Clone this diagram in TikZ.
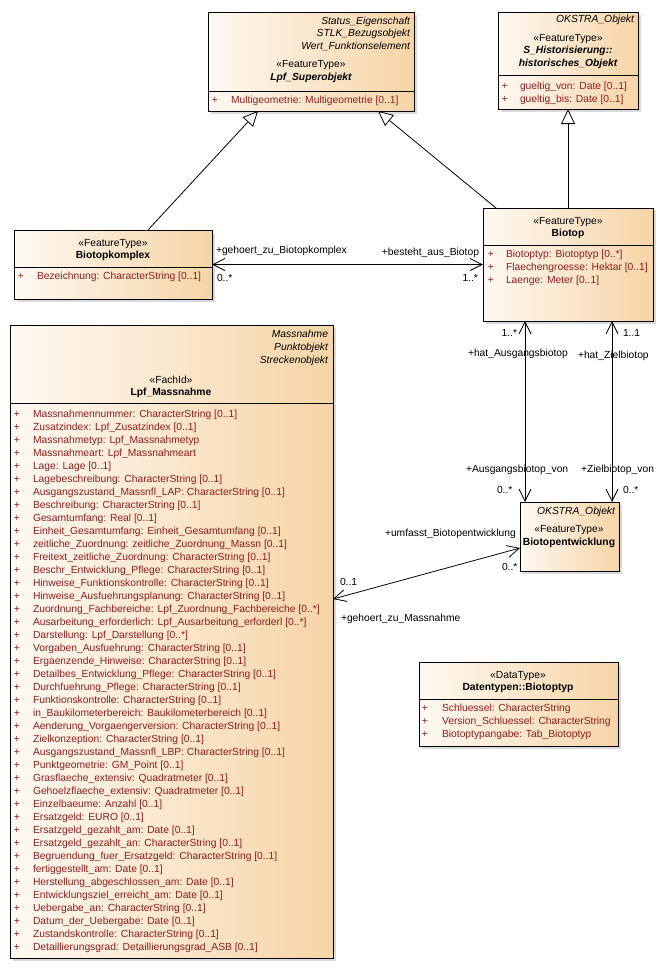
\documentclass[tikz,border=0pt]{standalone}
\usepackage{fontspec}
\setmainfont{Liberation Sans}
\usetikzlibrary{arrows.meta}
\definecolor{attrred}{RGB}{140,30,30}
\definecolor{boxl}{RGB}{254,249,242}
\definecolor{boxr}{RGB}{246,212,166}
\definecolor{shadowc}{RGB}{218,218,218}
\begin{document}
\begin{tikzpicture}[x=1pt,y=-1pt,
  every node/.style={font=\fontsize{10.3}{13}\selectfont, inner sep=0pt, outer sep=0pt},
  cls/.style={draw=black, line width=0.8pt, left color=boxl, right color=boxr, anchor=north west, rectangle},
  plus/.style={text=attrred, anchor=mid},
  attr/.style={text=attrred, anchor=mid west},
  ster/.style={anchor=mid},
  cname/.style={anchor=mid, font=\fontsize{10.3}{13}\selectfont\bfseries},
  aname/.style={anchor=mid, font=\fontsize{10.3}{13}\selectfont\bfseries\itshape},
  parent/.style={font=\fontsize{10.3}{13}\selectfont\itshape, anchor=mid east},
  lab/.style={anchor=mid west},
  labr/.style={anchor=mid east},
  divider/.style={draw, line width=0.8pt},
  gen/.style={draw, line width=0.8pt, -{Triangle[open, length=15pt, width=14pt, fill=white]}},
  assoc/.style={draw, line width=0.8pt, {Straight Barb[length=12pt,width=12pt]}-{Straight Barb[length=12pt,width=12pt]}},
]
\useasboundingbox[fill=white] (0,0) rectangle (664,969);

% shadows
\fill[shadowc] (211,15) rectangle (417,114);
\fill[shadowc] (501,15) rectangle (641,112);
\fill[shadowc] (17,233) rectangle (215,302);
\fill[shadowc] (486,211) rectangle (656,324);
\fill[shadowc] (13,328) rectangle (336,961);
\fill[shadowc] (523,505) rectangle (622,574);
\fill[shadowc] (422,665) rectangle (621,749);

% boxes
\node[cls, minimum width=206pt, minimum height=99pt] (super) at (208,12) {};
\node[cls, minimum width=140pt, minimum height=97pt] (okstra) at (498,12) {};
\node[cls, minimum width=198pt, minimum height=69pt] (bk) at (14,230) {};
\node[cls, minimum width=170pt, minimum height=113pt] (biotop) at (483,208) {};
\node[cls, minimum width=323pt, minimum height=633pt] (mass) at (10,325) {};
\node[cls, minimum width=99pt, minimum height=69pt] (be) at (520,502) {};
\node[cls, minimum width=199pt, minimum height=84pt] (dt) at (419,662) {};

% dividers
\draw[divider] (super.west |- 0,91) -- (super.east |- 0,91);
\draw[divider] (okstra.west |- 0,75) -- (okstra.east |- 0,75);
\draw[divider] (bk.west |- 0,267) -- (bk.east |- 0,267);
\draw[divider] (biotop.west |- 0,245) -- (biotop.east |- 0,245);
\draw[divider] (mass.west |- 0,403) -- (mass.east |- 0,403);
\draw[divider] (dt.west |- 0,699) -- (dt.east |- 0,699);

% Lpf_Superobjekt
\node[parent] (sp1) at (410,22) {Status\_Eigenschaft};
\node[parent] (sp2) at (410,34) {STLK\_Bezugsobjekt};
\node[parent] (sp3) at (410,47) {Wert\_Funktionselement};
\node[ster] (sst) at (311,65) {«FeatureType»};
\node[aname] (sname) at (311,78) {Lpf\_Superobjekt};
\node[plus] (sa1p) at (215,101) {+};
\node[attr] (sa1) at (231,101) {Multigeometrie: Multigeometrie [0..1]};

% OKSTRA / historisches_Objekt
\node[parent] (op1) at (634,20) {OKSTRA\_Objekt};
\node[ster] (ost) at (568,39) {«FeatureType»};
\node[aname] (oname1) at (568,51) {S\_Historisierung::};
\node[aname] (oname2) at (568,64) {historisches\_Objekt};
\node[plus] (oa1p) at (505,87) {+};
\node[attr] (oa1) at (520,87) {gueltig\_von: Date [0..1]};
\node[plus] (oa2p) at (505,100) {+};
\node[attr] (oa2) at (520,100) {gueltig\_bis: Date [0..1]};

% Biotopkomplex
\node[ster] (bkst) at (113,244) {«FeatureType»};
\node[cname] (bkname) at (113,256) {Biotopkomplex};
\node[plus] (bka1p) at (21,277) {+};
\node[attr] (bka1) at (37,277) {Bezeichnung: CharacterString [0..1]};

% Biotop
\node[ster] (bst) at (568,222) {«FeatureType»};
\node[cname] (bname) at (568,234) {Biotop};
\node[plus] (ba1p) at (491,255) {+};
\node[attr] (ba1) at (506,255) {Biotoptyp: Biotoptyp [0..*]};
\node[plus] (ba2p) at (491,268) {+};
\node[attr] (ba2) at (506,268) {Flaechengroesse: Hektar [0..1]};
\node[plus] (ba3p) at (491,281) {+};
\node[attr] (ba3) at (506,281) {Laenge: Meter [0..1]};

% Lpf_Massnahme
\node[parent] (mp1) at (328,335) {Massnahme};
\node[parent] (mp2) at (328,348) {Punktobjekt};
\node[parent] (mp3) at (328,361) {Streckenobjekt};
\node[ster] (mst) at (171,381) {«FachId»};
\node[cname] (mname) at (171,393) {Lpf\_Massnahme};
\foreach \t [count=\i] in {
Massnahmennummer: CharacterString [0..1],
Zusatzindex: Lpf\_Zusatzindex [0..1],
Massnahmetyp: Lpf\_Massnahmetyp,
Massnahmeart: Lpf\_Massnahmeart,
Lage: Lage [0..1],
Lagebeschreibung: CharacterString [0..1],
Ausgangszustand\_Massnfl\_LAP: CharacterString [0..1],
Beschreibung: CharacterString [0..1],
Gesamtumfang: Real [0..1],
Einheit\_Gesamtumfang: Einheit\_Gesamtumfang [0..1],
zeitliche\_Zuordnung: zeitliche\_Zuordnung\_Massn [0..1],
Freitext\_zeitliche\_Zuordnung: CharacterString [0..1],
Beschr\_Entwicklung\_Pflege: CharacterString [0..1],
Hinweise\_Funktionskontrolle: CharacterString [0..1],
Hinweise\_Ausfuehrungsplanung: CharacterString [0..1],
Zuordnung\_Fachbereiche: Lpf\_Zuordnung\_Fachbereiche [0..*],
Ausarbeitung\_erforderlich: Lpf\_Ausarbeitung\_erforderl [0..*],
Darstellung: Lpf\_Darstellung [0..*],
Vorgaben\_Ausfuehrung: CharacterString [0..1],
Ergaenzende\_Hinweise: CharacterString [0..1],
Detailbes\_Entwicklung\_Pflege: CharacterString [0..1],
Durchfuehrung\_Pflege: CharacterString [0..1],
Funktionskontrolle: CharacterString [0..1],
in\_Baukilometerbereich: Baukilometerbereich [0..1],
Aenderung\_Vorgaengerversion: CharacterString [0..1],
Zielkonzeption: CharacterString [0..1],
Ausgangszustand\_Massnfl\_LBP: CharacterString [0..1],
Punktgeometrie: GM\_Point [0..1],
Grasflaeche\_extensiv: Quadratmeter [0..1],
Gehoelzflaeche\_extensiv: Quadratmeter [0..1],
Einzelbaeume: Anzahl [0..1],
Ersatzgeld: EURO [0..1],
Ersatzgeld\_gezahlt\_am: Date [0..1],
Ersatzgeld\_gezahlt\_an: CharacterString [0..1],
Begruendung\_fuer\_Ersatzgeld: CharacterString [0..1],
fertiggestellt\_am: Date [0..1],
Herstellung\_abgeschlossen\_am: Date [0..1],
Entwicklungsziel\_erreicht\_am: Date [0..1],
Uebergabe\_an: CharacterString [0..1],
Datum\_der\_Uebergabe: Date [0..1],
Zustandskontrolle: CharacterString [0..1],
Detaillierungsgrad: Detaillierungsgrad\_ASB [0..1]}
{
  \node[plus] (map\i) at (17,402+13*\i) {+};
  \node[attr] (ma\i) at (33,402+13*\i) {\t};
}

% Biotopentwicklung
\node[parent] (bep1) at (615,512) {OKSTRA\_Objekt};
\node[ster] (best) at (569,530) {«FeatureType»};
\node[cname] (bename) at (569,543) {Biotopentwicklung};

% Datentypen::Biotoptyp
\node[ster] (dtst) at (518,676) {«DataType»};
\node[cname] (dtname) at (518,688) {Datentypen::Biotoptyp};
\node[plus] (dta1p) at (425,709) {+};
\node[attr] (dta1) at (442,709) {Schluessel: CharacterString};
\node[plus] (dta2p) at (425,722) {+};
\node[attr] (dta2) at (442,722) {Version\_Schluessel: CharacterString};
\node[plus] (dta3p) at (425,735) {+};
\node[attr] (dta3) at (442,735) {Biotoptypangabe: Tab\_Biotoptyp};

% generalizations
\draw[gen] ([xshift=134pt]bk.north west) -- ([xshift=50pt]super.south west);
\draw[gen] ([xshift=13pt]biotop.north west) -- ([xshift=170pt]super.south west);
\draw[gen] (biotop.north -| okstra.south) -- (okstra.south);

% associations
\draw[assoc] (bk.east) -- (biotop.west |- bk.east);
\draw[assoc] ([xshift=42pt]biotop.south west) -- ([xshift=42pt]biotop.south west |- be.north);
\draw[assoc] ([xshift=129pt]biotop.south west) -- ([xshift=129pt]biotop.south west |- be.north);
\draw[assoc] (mass.east |- 0,599) -- (be.west |- 0,548);

% association labels
\node[lab] (l1) at (216,251) {+gehoert\_zu\_Biotopkomplex};
\node[lab] (l2) at (217,279) {0..*};
\node[labr] (l3) at (479,253) {+besteht\_aus\_Biotop};
\node[labr] (l4) at (478,279) {1..*};
\node[labr] (l5) at (517,334) {1..*};
\node[lab] (l6) at (468,354) {+hat\_Ausgangsbiotop};
\node[lab] (l7) at (623,334) {1..1};
\node[lab] (l8) at (578,356) {+hat\_Zielbiotop};
\node[lab] (l9) at (466,470) {+Ausgangsbiotop\_von};
\node[lab] (l10) at (497,491) {0..*};
\node[lab] (l11) at (581,470) {+Zielbiotop\_von};
\node[lab] (l12) at (623,491) {0..*};
\node[lab] (l13) at (385,534) {+umfasst\_Biotopentwicklung};
\node[lab] (l14) at (502,568) {0..*};
\node[lab] (l15) at (340,583) {0..1};
\node[lab] (l16) at (341,619) {+gehoert\_zu\_Massnahme};
\end{tikzpicture}
\end{document}
